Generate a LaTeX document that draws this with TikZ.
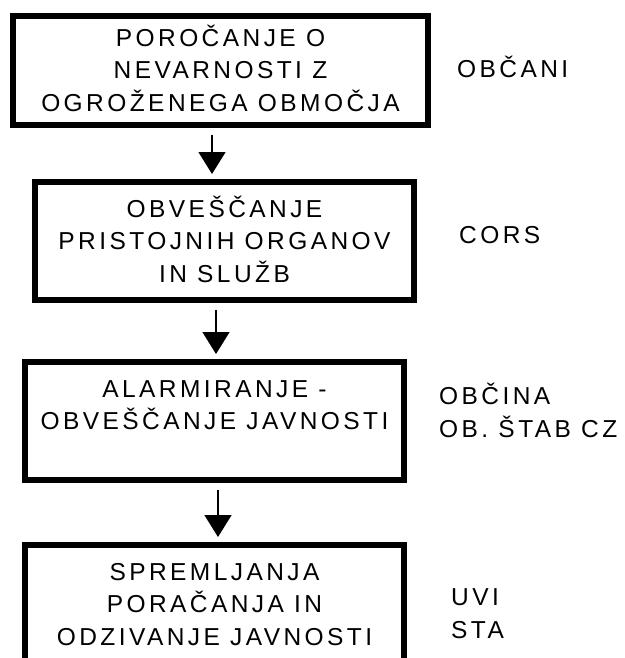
\documentclass[tikz,border=0pt]{standalone}
\usepackage{fontspec}
\newfontfamily\shemafont{Liberation Sans}[LetterSpace=14]
\usetikzlibrary{arrows.meta}

\tikzset{
  korak/.style={rectangle,draw,line width=6pt,minimum width=379pt,minimum height=118pt,
    align=center,text height=82pt,text depth=0pt,inner sep=0pt},
  oznaka/.style={anchor=base west,align=left,inner sep=0pt},
  strelica/.style={line width=1.5pt,-{Triangle[width=27pt,length=22pt]},
    shorten <=7pt,shorten >=5pt}
}

\begin{document}
\begin{tikzpicture}[x=1pt,y=-1pt,font=\shemafont\fontsize{24.5}{32.5}\selectfont]
\useasboundingbox (0,0) rectangle (624,658);
\clip (0,0) rectangle (624,658);
\node [korak,minimum width=415pt,minimum height=109pt] (porocanje) at (220.5,70.5)
  {POROČANJE O\\NEVARNOSTI Z\\OGROŽENEGA OBMOČJA};
\node [korak] (obvescanje)  at (224.5,241) {OBVEŠČANJE\\PRISTOJNIH ORGANOV\\IN SLUŽB};
\node [korak] (alarmiranje) at (214.5,421) {ALARMIRANJE -\\OBVEŠČANJE JAVNOSTI\\~};
\node [korak] (spremljanje) at (214.5,604) {SPREMLJANJA\\PORAČANJA IN\\ODZIVANJE JAVNOSTI};
\node [oznaka] (obcani) at (457,78)  {OBČANI};
\node [oznaka] (cors)   at (459,243) {CORS};
\node [oznaka] (obcina) at (439,437) {OBČINA\\OB. ŠTAB CZ};
\node [oznaka] (uvi)    at (451,638) {UVI\\STA};
\draw [strelica] ([xshift=-8.5pt]porocanje.south) -- ([xshift=-8.5pt]porocanje.south |- obvescanje.north);
\draw [strelica] ([xshift=-8.5pt]obvescanje.south) -- ([xshift=-8.5pt]obvescanje.south |- alarmiranje.north);
\draw [strelica] ([xshift=3.5pt]alarmiranje.south) -- ([xshift=3.5pt]alarmiranje.south |- spremljanje.north);
\end{tikzpicture}
\end{document}
